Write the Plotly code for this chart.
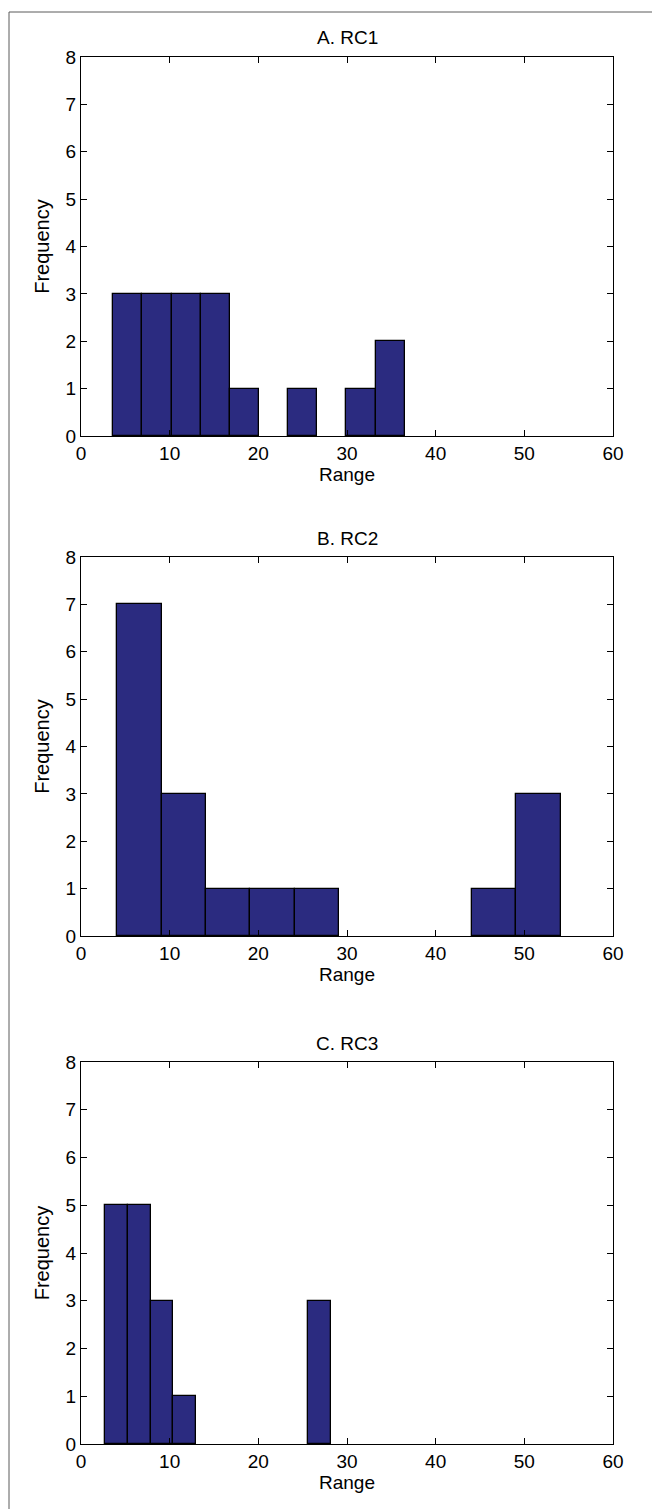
import plotly.graph_objects as go

W, H = 652, 1509

# Histogram data (10 bins each)
titles = ["A. RC1", "B. RC2", "C. RC3"]
bin_start = [3.65, 4.1, 2.75]
bin_width = [3.285, 5.0, 2.545]
counts_rc1 = [3, 3, 3, 3, 1, 0, 1, 0, 1, 2]
counts_rc2 = [7, 3, 1, 1, 1, 0, 0, 0, 1, 3]
counts_rc3 = [5, 5, 3, 1, 0, 0, 0, 0, 0, 3]
all_counts = [counts_rc1, counts_rc2, counts_rc3]

x_ticks = [0, 10, 20, 30, 40, 50, 60]
y_ticks = [0, 1, 2, 3, 4, 5, 6, 7, 8]

# layout in pixels (top, bottom) for each panel
panels_px = [(57, 436), (557, 936), (1062, 1444)]
x_px = (81, 613)

FONT = "Liberation Sans, Arial, sans-serif"
FS = 19
BAR = "rgb(43,43,128)"

fig = go.Figure()
annotations = []
for i in range(3):
    n = "" if i == 0 else str(i + 1)
    counts = all_counts[i]
    xs, ys = [], []
    for k, c in enumerate(counts):
        if c > 0:
            xs.append(bin_start[i] + bin_width[i] * (k + 0.5))
            ys.append(c)
    fig.add_trace(go.Bar(
        x=xs, y=ys, width=[bin_width[i]] * len(xs),
        marker=dict(color=BAR, line=dict(color="black", width=1.3)),
        xaxis="x" + n, yaxis="y" + n, showlegend=False,
        hoverinfo="x+y",
    ))
    top, bot = panels_px[i]
    ydom = [1 - bot / H, 1 - top / H]
    xdom = [x_px[0] / W, x_px[1] / W]
    common = dict(showline=True, linecolor="black", linewidth=1, mirror="ticks",
                  ticks="inside", ticklen=6, tickcolor="black", tickwidth=1,
                  showgrid=False, zeroline=False,
                  tickfont=dict(family=FONT, size=FS, color="black"),
                  automargin=False)
    fig.layout["xaxis" + n] = dict(
        domain=xdom, range=[0, 60], tickmode="array", tickvals=x_ticks,
        anchor="y" + n,
        title=dict(text="Range", font=dict(family=FONT, size=FS, color="black"), standoff=3),
        **common)
    fig.layout["yaxis" + n] = dict(
        domain=ydom, range=[0, 8], tickmode="array", tickvals=y_ticks,
        anchor="x" + n,
        title=dict(text="Frequency", font=dict(family=FONT, size=20, color="black"), standoff=10),
        **common)
    annotations.append(dict(
        text=titles[i], xref="paper", yref="paper",
        x=(x_px[0] + x_px[1]) / 2 / W, y=1 - (top - 19) / H,
        xanchor="center", yanchor="middle", showarrow=False,
        font=dict(family=FONT, size=FS, color="black")))

# outer frame lines (top and left)
shapes = [
    dict(type="line", xref="paper", yref="paper", x0=9 / W, x1=1, y0=1 - 12 / H, y1=1 - 12 / H,
         line=dict(color="#5a5a5a", width=1)),
    dict(type="line", xref="paper", yref="paper", x0=9 / W, x1=9 / W, y0=1 - 12 / H, y1=0,
         line=dict(color="#5a5a5a", width=1)),
]

fig.update_layout(
    width=W, height=H,
    margin=dict(l=0, r=0, t=0, b=0),
    paper_bgcolor="white", plot_bgcolor="white",
    bargap=0, barmode="overlay",
    annotations=annotations, shapes=shapes,
    font=dict(family=FONT, size=FS, color="black"),
)

fig.write_html("out.html")
